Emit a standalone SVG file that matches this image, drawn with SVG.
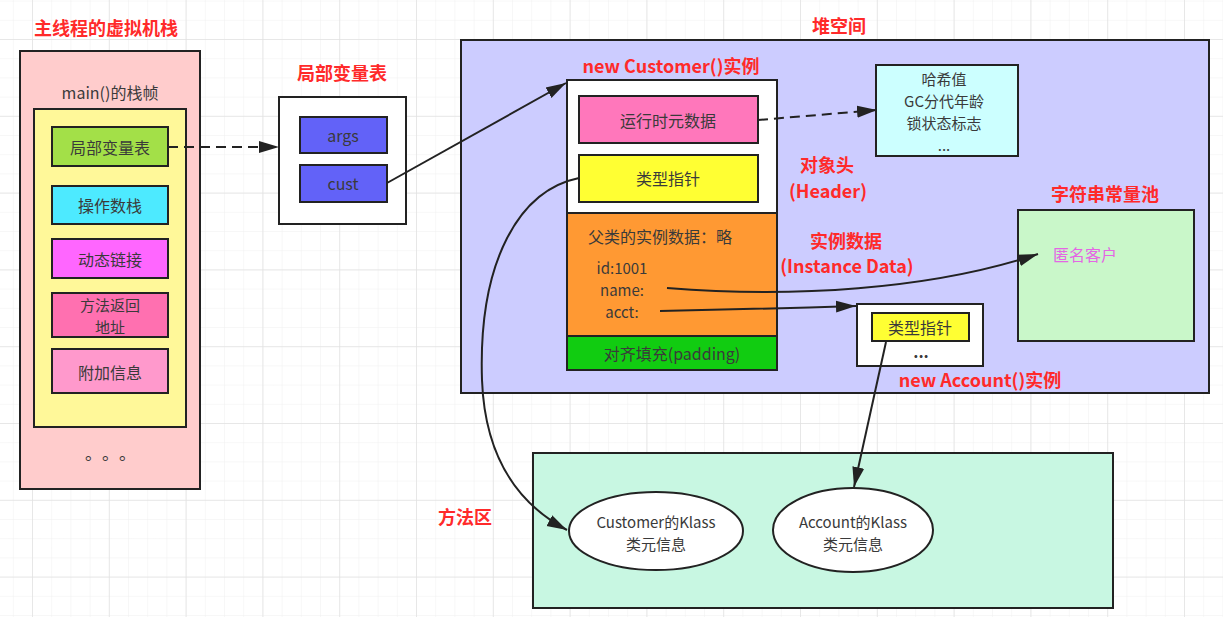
<svg xmlns="http://www.w3.org/2000/svg" width="1223" height="617" viewBox="0 0 1223 617">
<defs>
  <pattern id="minor" x="32" y="39" width="19.2" height="19.2" patternUnits="userSpaceOnUse">
    <path d="M0,0 H19.2 M0,0 V19.2" fill="none" stroke="#efefef" stroke-width="1"/>
  </pattern>
  <pattern id="major" x="32" y="39" width="76.8" height="76.8" patternUnits="userSpaceOnUse">
    <path d="M0,0 H76.8 M0,0 V76.8" fill="none" stroke="#e2e2e2" stroke-width="1.5"/>
  </pattern>
  <marker id="arr" markerWidth="21" markerHeight="14" refX="20" refY="7" orient="auto" markerUnits="userSpaceOnUse">
    <path d="M0,1 L20,7 L0,13 Z" fill="#222"/>
  </marker>
  <style>
    .box{stroke:#222;stroke-width:2}
    .t{font-family:"Noto Sans CJK SC","Noto Sans",sans-serif;font-size:16px;fill:#3a3a3a;text-anchor:middle;dominant-baseline:central}
    .s{font-size:15px}
    .title{font-family:"Noto Sans CJK SC","Noto Sans",sans-serif;font-size:18px;font-weight:bold;fill:#ff2a2a;text-anchor:middle;dominant-baseline:central}
    .ln{fill:none;stroke:#222;stroke-width:2}
    .dash{stroke-dasharray:10 6}
  </style>
</defs>
<rect width="1223" height="617" fill="#ffffff"/>
<rect width="1223" height="617" fill="url(#minor)"/>
<rect width="1223" height="617" fill="url(#major)"/>

<g id="stack">
  <text class="title" x="106" y="27">主线程的虚拟机栈</text>
  <rect class="box" x="20" y="51" width="180" height="438" fill="#ffcccc"/>
  <text class="t" x="110" y="92">main()的栈帧</text>
  <rect class="box" x="34" y="109" width="152" height="318" fill="#fff899"/>
  <text class="t" x="85 102 119" y="460" style="text-anchor:start;dominant-baseline:auto;font-size:17px">。。。</text>
</g>
<g id="frame-localvars">
  <rect class="box" x="52" y="127" width="116" height="39" fill="#a3e048"/>
  <text class="t" x="110" y="147">局部变量表</text>
</g>
<g id="frame-operand">
  <rect class="box" x="52" y="186" width="116" height="38" fill="#4deaff"/>
  <text class="t" x="110" y="205">操作数栈</text>
</g>
<g id="frame-dynlink">
  <rect class="box" x="52" y="239" width="116" height="39" fill="#ff66ff"/>
  <text class="t" x="110" y="259">动态链接</text>
</g>
<g id="frame-return">
  <rect class="box" x="52" y="293" width="116" height="44" fill="#ff70b0"/>
  <text class="t s" x="110" y="304">方法返回</text>
  <text class="t s" x="110" y="326">地址</text>
</g>
<g id="frame-extra">
  <rect class="box" x="52" y="349" width="116" height="44" fill="#ff99cc"/>
  <text class="t" x="110" y="372">附加信息</text>
</g>

<g id="localvar-table">
  <text class="title" x="342" y="72">局部变量表</text>
  <rect class="box" x="279" y="97" width="127" height="127" fill="#ffffff"/>
  <rect class="box" x="300" y="117" width="87" height="36" fill="#6262f8"/>
  <text class="t" x="343" y="135">args</text>
  <rect class="box" x="300" y="165" width="87" height="37" fill="#6262f8"/>
  <text class="t" x="343" y="183">cust</text>
</g>

<g id="heap">
  <text class="title" x="839" y="25">堆空间</text>
  <rect class="box" x="461" y="40" width="748" height="353" fill="#ccccff"/>
  <text class="title" x="827" y="164">对象头</text>
  <text class="title" x="828" y="190">(Header)</text>
  <text class="title" x="846" y="240">实例数据</text>
  <text class="title" x="847" y="265">(Instance Data)</text>
</g>

<g id="customer-instance">
  <text class="title" x="671" y="65">new Customer()实例</text>
  <rect class="box" x="567" y="80" width="210" height="133" fill="#ffffff"/>
  <rect class="box" x="579" y="96" width="179" height="47" fill="#ff77bb"/>
  <text class="t" x="668" y="120">运行时元数据</text>
  <rect class="box" x="579" y="155" width="179" height="47" fill="#ffff33"/>
  <text class="t" x="668" y="178">类型指针</text>
  <rect class="box" x="567" y="213" width="210" height="123" fill="#ff9933"/>
  <text class="t" x="588" y="236" style="text-anchor:start">父类的实例数据：略</text>
  <text class="t s" x="622" y="267">id:1001</text>
  <text class="t s" x="622" y="289">name:</text>
  <text class="t s" x="622" y="311">acct:</text>
  <rect class="box" x="567" y="336" width="210" height="34" fill="#11cc11"/>
  <text class="t" x="672" y="353">对齐填充(padding)</text>
</g>

<g id="markword">
  <rect class="box" x="876" y="65" width="142" height="91" fill="#ccffff"/>
  <text class="t s" x="944" y="78">哈希值</text>
  <text class="t s" x="944" y="100">GC分代年龄</text>
  <text class="t s" x="944" y="122">锁状态标志</text>
  <text class="t s" x="944" y="144">...</text>
</g>

<g id="string-pool">
  <text class="title" x="1105" y="193">字符串常量池</text>
  <rect class="box" x="1018" y="210" width="176" height="131" fill="#c9f7c9"/>
  <text class="t" x="1053" y="254" style="text-anchor:start;fill:#e466e4">匿名客户</text>
</g>

<g id="account-instance">
  <rect class="box" x="857" y="304" width="126" height="62" fill="#ffffff"/>
  <rect class="box" x="872" y="313" width="97" height="28" fill="#ffff33"/>
  <text class="t" x="920" y="327">类型指针</text>
  <text class="t" x="921" y="351" style="font-weight:bold">...</text>
  <text class="title" x="980" y="379">new Account()实例</text>
</g>

<g id="method-area">
  <text class="title" x="465" y="516">方法区</text>
  <rect class="box" x="533" y="453" width="580" height="155" fill="#c8f7e2"/>
</g>
<g id="customer-klass">
  <ellipse class="box" cx="656" cy="531" rx="87" ry="39" fill="#ffffff"/>
  <text class="t s" x="656" y="521">Customer的Klass</text>
  <text class="t s" x="656" y="543">类元信息</text>
</g>
<g id="account-klass">
  <ellipse class="box" cx="853" cy="530" rx="80" ry="42" fill="#ffffff"/>
  <text class="t s" x="853" y="521">Account的Klass</text>
  <text class="t s" x="853" y="543">类元信息</text>
</g>

<g id="connectors">
  <path class="ln dash" d="M168,147 L279,147" marker-end="url(#arr)"/>
  <path class="ln" d="M387,183 L566,83" marker-end="url(#arr)"/>
  <path class="ln dash" d="M758,120 L877,110" marker-end="url(#arr)"/>
  <path class="ln" d="M579,178 C520,190 478,260 482,380 C485,460 520,505 567,530" marker-end="url(#arr)"/>
  <path class="ln" d="M667,288 C790,298 930,290 1038,254" marker-end="url(#arr)"/>
  <path class="ln" d="M660,311 Q760,309 856,306" marker-end="url(#arr)"/>
  <path class="ln" d="M886,342 L854,487" marker-end="url(#arr)"/>
</g>
</svg>
